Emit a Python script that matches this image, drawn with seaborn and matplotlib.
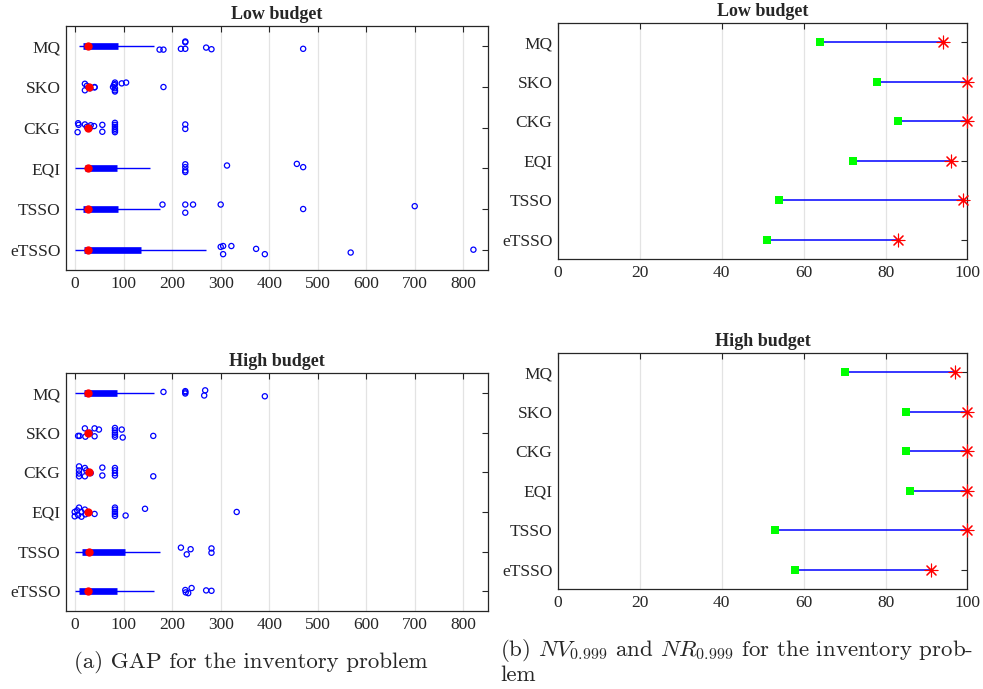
import numpy as np
import pandas as pd
import matplotlib
matplotlib.use("Agg")
import matplotlib.pyplot as plt
import seaborn as sns

methods = ["MQ", "SKO", "CKG", "EQI", "TSSO", "eTSSO"]

# ---- GAP box summaries (whisker low, q1, median, q3, whisker high) ----
low_wlo = [8, 29, 27, 0, 0, 0]
low_q1 = [16, 29, 27, 20, 16, 18]
low_med = [25.5, 29, 27, 25.5, 27, 26]
low_q3 = [88, 29, 27, 87, 89, 136]
low_whi = [162, 29, 27, 155, 175, 269]

high_wlo = [0, 27, 29, 27, 0, 0]
high_q1 = [18, 27, 29, 27, 15, 8]
high_med = [25.5, 27, 29, 27, 28, 25.5]
high_q3 = [87, 27, 29, 27, 102, 87]
high_whi = [162, 27, 29, 27, 175, 163]

# ---- GAP outliers (method, value, vertical jitter) ----
low_out_method = (["MQ"] * 9 + ["SKO"] * 16 + ["CKG"] * 18 + ["EQI"] * 7
                  + ["TSSO"] * 7 + ["eTSSO"] * 8)
low_out_value = [174, 182, 218, 227, 227, 227, 270, 281, 470,
                 20, 20, 24, 31, 40, 40, 78, 80, 82, 82, 82, 82, 82, 96, 105, 182,
                 6, 7, 5, 20, 24, 32, 39, 56, 56, 82, 82, 82, 82, 82, 82, 227, 227, 30,
                 227, 227, 227, 227, 313, 457, 470,
                 180, 227, 227, 243, 300, 470, 700,
                 300, 305, 322, 305, 373, 391, 568, 821]
low_out_jitter = [0.08, 0.08, 0.06, -0.12, -0.10, 0.06, 0.03, 0.07, 0.06,
                  -0.08, 0.08, -0.03, 0.03, 0.0, 0.01, 0.0, -0.05, -0.11, -0.07, 0.03, 0.08, 0.11, -0.09, -0.11, 0.0,
                  -0.11, -0.07, 0.11, -0.08, -0.02, -0.06, -0.04, -0.07, 0.1, -0.12, -0.07, -0.02, 0.03, 0.07, 0.11, -0.08, 0.03, 0.0,
                  -0.1, -0.03, 0.05, 0.09, -0.07, -0.11, -0.03,
                  -0.11, -0.11, 0.09, -0.11, -0.11, 0.0, -0.07,
                  -0.07, -0.09, -0.09, 0.11, -0.02, 0.11, 0.07, 0.0]

high_out_method = (["MQ"] * 7 + ["SKO"] * 16 + ["CKG"] * 15 + ["EQI"] * 18
                   + ["TSSO"] * 5 + ["eTSSO"] * 6)
high_out_value = [182, 227, 227, 227, 268, 266, 391,
                  6, 9, 20, 21, 40, 40, 49, 30, 82, 82, 82, 82, 82, 96, 98, 161,
                  8, 8, 8, 8, 20, 20, 23, 32, 56, 56, 82, 82, 82, 82, 161,
                  -1, -1, 4, 8, 6, 13, 13, 20, 21, 40, 82, 82, 82, 82, 82, 104, 144, 333,
                  218, 238, 230, 281, 281,
                  227, 228, 233, 240, 270, 281]
high_out_jitter = [-0.03, -0.05, -0.02, 0.01, -0.07, 0.06, 0.08,
                   0.08, 0.08, -0.11, 0.1, -0.11, 0.09, -0.08, 0.0, -0.12, -0.06, 0.0, 0.05, 0.1, -0.08, 0.12, 0.08,
                   -0.15, -0.05, 0.1, 0.03, -0.11, 0.1, -0.05, 0.02, -0.12, 0.08, -0.11, -0.05, 0.02, 0.08, 0.1,
                   0.0, 0.11, -0.04, -0.11, 0.08, 0.0, 0.12, -0.06, 0.06, 0.05, -0.11, -0.06, 0.0, 0.05, 0.1, 0.09, -0.08, 0.0,
                   -0.1, -0.06, 0.07, -0.08, 0.03,
                   -0.03, 0.03, 0.05, -0.08, -0.02, -0.01]

# ---- NV / NR (percent) ----
low_nv = [64, 78, 83, 72, 54, 51]
low_nr = [94, 100, 100, 96, 99, 83]
high_nv = [70, 85, 85, 86, 53, 58]
high_nr = [97, 100, 100, 100, 100, 91]

gap_ticks = [0, 100, 200, 300, 400, 500, 600, 700, 800]
pct_ticks = [0, 20, 40, 60, 80, 100]

sns.set_style("white")
plt.rcParams["font.family"] = ["Liberation Serif", "DejaVu Serif"]
plt.rcParams["mathtext.fontset"] = "cm"

fig = plt.figure(figsize=(9.83, 6.89), dpi=100)
ax_lt = fig.add_axes([0.0671, 0.6081, 0.4293, 0.3541])
ax_lb = fig.add_axes([0.0671, 0.1132, 0.4293, 0.3450])
ax_rt = fig.add_axes([0.5677, 0.6237, 0.4164, 0.3434])
ax_rb = fig.add_axes([0.5677, 0.1447, 0.4164, 0.3434])

ypos = {m: i for i, m in enumerate(methods)}
spine_col = "#262626"


def style_axes(ax, xticks, xlim, title):
    ax.set_xlim(*xlim)
    ax.set_ylim(len(methods) - 0.5, -0.5)
    ax.set_yticks(range(len(methods)))
    ax.set_yticklabels(methods)
    ax.set_xticks(xticks)
    ax.set_xticklabels([str(t) for t in xticks])
    ax.grid(axis="x", color="#e3e3e3", lw=0.9)
    ax.grid(axis="y", visible=False)
    ax.set_axisbelow(True)
    ax.tick_params(direction="in", top=True, right=True, length=4, width=0.8,
                   color=spine_col, labelsize=12.5, labelcolor="#262626", pad=4)
    for s in ax.spines.values():
        s.set_color(spine_col)
        s.set_linewidth(0.9)
        s.set_visible(True)
    ax.set_title(title, fontsize=13, fontweight="bold", pad=5)
    ax.set_xlabel("")
    ax.set_ylabel("")


def gap_panel(ax, wlo, q1, med, q3, whi, om, ov, oj, title):
    y = np.arange(len(methods))
    ax.hlines(y, wlo, whi, color="blue", lw=1.0, zorder=2)
    ax.hlines(y, q1, q3, color="blue", lw=4.8, capstyle="butt", zorder=3)
    out = pd.DataFrame({"method": om, "value": ov, "jit": oj})
    out["y"] = out["method"].map(ypos) + out["jit"]
    sns.scatterplot(data=out, x="value", y="y", ax=ax, marker="o", s=14,
                    facecolor="none", edgecolor="blue", linewidth=0.9, zorder=4)
    md = pd.DataFrame({"value": med, "y": y})
    sns.scatterplot(data=md, x="value", y="y", ax=ax, marker="o", s=36,
                    color="red", edgecolor="red", linewidth=0, zorder=5)
    style_axes(ax, gap_ticks, (-19, 851), title)


def dumbbell_panel(ax, nv, nr, title):
    y = np.arange(len(methods))
    ax.hlines(y, nv, nr, color="blue", lw=1.1, zorder=2)
    d = pd.DataFrame({"method": methods, "nv": nv, "nr": nr, "y": y})
    sns.scatterplot(data=d, x="nv", y="y", ax=ax, marker="s", s=38,
                    color="#00ff00", edgecolor="#00ff00", linewidth=0, zorder=3,
                    clip_on=False)
    sns.scatterplot(data=d, x="nr", y="y", ax=ax, marker=(8, 2, 0), s=85,
                    color="red", edgecolor="red", linewidth=0.8, zorder=4,
                    clip_on=False)
    style_axes(ax, pct_ticks, (0, 100), title)


gap_panel(ax_lt, low_wlo, low_q1, low_med, low_q3, low_whi,
          low_out_method, low_out_value, low_out_jitter, "Low budget")
gap_panel(ax_lb, high_wlo, high_q1, high_med, high_q3, high_whi,
          high_out_method, high_out_value, high_out_jitter, "High budget")
dumbbell_panel(ax_rt, low_nv, low_nr, "Low budget")
dumbbell_panel(ax_rb, high_nv, high_nr, "High budget")

fig.text(251 / 983, 1 - 663 / 689, "(a) GAP for the inventory problem",
         ha="center", va="center", fontsize=16.5, family="cmr10")
fig.text(500 / 983, 1 - 650 / 689,
         r"(b) $NV_{0.999}$ and $NR_{0.999}$ for the inventory prob-",
         ha="left", va="center", fontsize=16.5, family="cmr10")
fig.text(500 / 983, 1 - 675 / 689, "lem",
         ha="left", va="center", fontsize=16.5, family="cmr10")

fig.savefig("out.png", dpi=100)
